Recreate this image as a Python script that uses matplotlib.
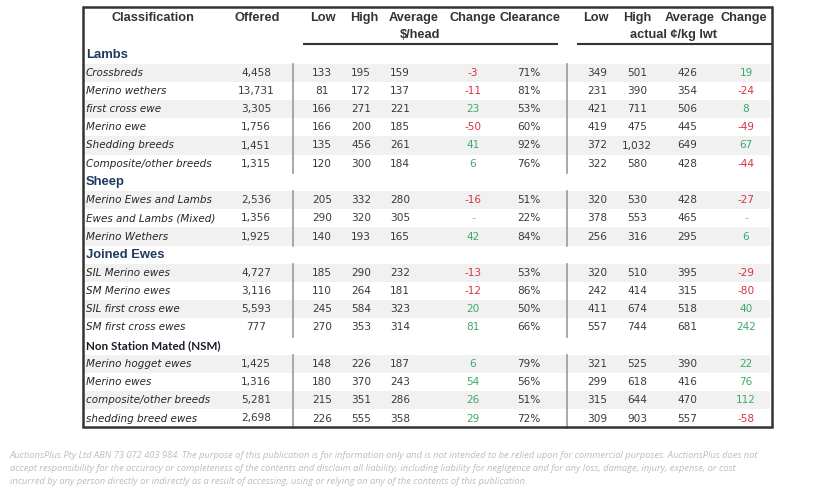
import matplotlib
matplotlib.use("Agg")
import matplotlib.pyplot as plt
from matplotlib.patches import Rectangle
from matplotlib import font_manager

# ---------------- data ----------------
header_left = ["Classification", "Offered", "Low", "High", "Average", "Change", "Clearance"]
header_right = ["Low", "High", "Average", "Change"]
unit_left = "$/head"
unit_right = "actual ¢/kg lwt"

groups = ["Lambs", "Sheep", "Joined Ewes", "Non Station Mated (NSM)"]
row_group = [0, 0, 0, 0, 0, 0, 1, 1, 1, 2, 2, 2, 2, 3, 3, 3, 3]

labels = ["Crossbreds", "Merino wethers", "first cross ewe", "Merino ewe", "Shedding breeds",
          "Composite/other breeds",
          "Merino Ewes and Lambs", "Ewes and Lambs (Mixed)", "Merino Wethers",
          "SIL Merino ewes", "SM Merino ewes", "SIL first cross ewe", "SM first cross ewes",
          "Merino hogget ewes", "Merino ewes", "composite/other breeds", "shedding breed ewes"]
offered = [4458, 13731, 3305, 1756, 1451, 1315, 2536, 1356, 1925, 4727, 3116, 5593, 777,
           1425, 1316, 5281, 2698]
low_head = [133, 81, 166, 166, 135, 120, 205, 290, 140, 185, 110, 245, 270, 148, 180, 215, 226]
high_head = [195, 172, 271, 200, 456, 300, 332, 320, 193, 290, 264, 584, 353, 226, 370, 351, 555]
avg_head = [159, 137, 221, 185, 261, 184, 280, 305, 165, 232, 181, 323, 314, 187, 243, 286, 358]
chg_head = [-3, -11, 23, -50, 41, 6, -16, None, 42, -13, -12, 20, 81, 6, 54, 26, 29]
clearance = [71, 81, 53, 60, 92, 76, 51, 22, 84, 53, 86, 50, 66, 79, 56, 51, 72]
low_kg = [349, 231, 421, 419, 372, 322, 320, 378, 256, 320, 242, 411, 557, 321, 299, 315, 309]
high_kg = [501, 390, 711, 475, 1032, 580, 530, 553, 316, 510, 414, 674, 744, 525, 618, 644, 903]
avg_kg = [426, 354, 506, 445, 649, 428, 428, 465, 295, 395, 315, 518, 681, 390, 416, 470, 557]
chg_kg = [19, -24, 8, -49, 67, -44, -27, None, 6, -29, -80, 40, 242, 22, 76, 112, -58]

footer = ["AuctionsPlus Pty Ltd ABN 73 072 403 984. The purpose of this publication is for information only and is not intended to be relied upon for commercial purposes. AuctionsPlus does not",
          "accept responsibility for the accuracy or completeness of the contents and disclaim all liability, including liability for negligence and for any loss, damage, injury, expense, or cost",
          "incurred by any person directly or indirectly as a result of accessing, using or relying on any of the contents of this publication."]

# ---------------- layout ----------------
fig = plt.figure(figsize=(8.21, 4.91), dpi=100)
ax = fig.add_axes([0, 0, 1, 1])
ax.set_xlim(0, 821)
ax.set_ylim(491, 0)
ax.axis("off")
r = fig.canvas.get_renderer()


def fit(texts, ref, target):
    """Scale font size of texts so that `ref` has the target pixel width."""
    w = ref.get_window_extent(r).width
    s = ref.get_fontsize() * target / w
    for t in texts:
        t.set_fontsize(s)


RED = "#d9343e"
GREEN = "#3fa86c"
NUM = "#3a3a3a"
LAB = "#262626"
HDR = "#333333"
GRP = "#1f3a5c"

x_left = 83
x_right = 772
y_top = 7
y_bot = 427
y0 = 54.5
pitch = 18.2

hx_left = [153, 257, 323, 364, 414, 473, 530]
hx_right = [596, 637, 690, 744]
col_off = 256
col_left = [322, 361, 400, 473, 529]
col_right = [597, 637, 687, 746]

hfont = dict(family="Liberation Sans", fontweight="bold", fontsize=9.2, color=HDR,
             ha="center", va="center")
for i, (h, x) in enumerate(zip(header_left, hx_left)):
    t = ax.text(x, 18, h, **hfont)
    if h == "Clearance":
        clip = Rectangle((501, 0), 200, 60, transform=ax.transData)
        t.set_clip_path(clip)
for h, x in zip(header_right, hx_right):
    ax.text(x, 18, h, **hfont)
ax.text(420, 35, unit_left, **hfont)
ax.text(674, 35, unit_right, **hfont)
ax.plot([303, 558], [43.5, 43.5], color="#333333", lw=1.5, solid_capstyle="butt")
ax.plot([577, x_right], [43.5, 43.5], color="#333333", lw=1.5, solid_capstyle="butt")

line = 0
prev_g = -1
idx_in_group = 0
group_rows = {}
label_texts = []
nsm_text = None
for i, lab in enumerate(labels):
    g = row_group[i]
    if g != prev_g:
        y = y0 + line * pitch
        if g == 3:
            nsm_text = ax.text(86, y, groups[g], family="Lato", fontweight="bold", fontsize=8.5,
                               color="#1c1c2a", ha="left", va="center")
        else:
            ax.text(86, y, groups[g], family="Liberation Sans", fontweight="bold", fontsize=9.4,
                    color=GRP, ha="left", va="center")
        line += 1
        prev_g = g
        idx_in_group = 0
    y = y0 + line * pitch
    group_rows.setdefault(g, []).append(y)
    if idx_in_group % 2 == 0:
        ax.add_patch(Rectangle((84, y - pitch / 2), 770 - 84, pitch, facecolor="#f1f1f1",
                               edgecolor="none", zorder=0))
    label_texts.append(ax.text(86, y, lab, family="DejaVu Sans", style="oblique", fontsize=7.2,
                               color=LAB, ha="left", va="center"))
    nfont = dict(family="DejaVu Sans", fontsize=7.6, ha="center", va="center")
    ax.text(col_off, y, f"{offered[i]:,}", color=NUM, **nfont)
    ax.text(col_left[0], y, f"{low_head[i]:,}", color=NUM, **nfont)
    ax.text(col_left[1], y, f"{high_head[i]:,}", color=NUM, **nfont)
    ax.text(col_left[2], y, f"{avg_head[i]:,}", color=NUM, **nfont)
    c = chg_head[i]
    if c is None:
        ax.text(col_left[3], y, "-", color="#aaaaaa", **nfont)
    else:
        ax.text(col_left[3], y, f"{c}", color=RED if c < 0 else GREEN, **nfont)
    ax.text(col_left[4], y, f"{clearance[i]}%", color=NUM, **nfont)
    ax.text(col_right[0], y, f"{low_kg[i]:,}", color=NUM, **nfont)
    ax.text(col_right[1], y, f"{high_kg[i]:,}", color=NUM, **nfont)
    ax.text(col_right[2], y, f"{avg_kg[i]:,}", color=NUM, **nfont)
    c = chg_kg[i]
    if c is None:
        ax.text(col_right[3], y, "-", color="#aaaaaa", **nfont)
    else:
        ax.text(col_right[3], y, f"{c}", color=RED if c < 0 else GREEN, **nfont)
    line += 1
    idx_in_group += 1

fit(label_texts, label_texts[5], 126)
fit([nsm_text], nsm_text, 134)

for g, ys in group_rows.items():
    for xs in (293, 567):
        ax.plot([xs, xs], [ys[0] - pitch / 2, ys[-1] + pitch / 2], color="#9a9a9a", lw=1.2)

ax.add_patch(Rectangle((x_left, y_top), x_right - x_left, y_bot - y_top, facecolor="none",
                       edgecolor="#333333", lw=1.8, zorder=5))

avail = {f.name for f in font_manager.fontManager.ttflist}
ffam = "Liberation Sans Narrow" if "Liberation Sans Narrow" in avail else "Open Sans"
fts = []
for k, txt in enumerate(footer):
    fts.append(ax.text(10, 455.5 + k * 13.2, txt, family=ffam, style="italic",
                       fontsize=7, color="#bdbdbd", ha="left", va="center"))
fit(fts, fts[0], 760)

fig.savefig("out.png", dpi=100)
